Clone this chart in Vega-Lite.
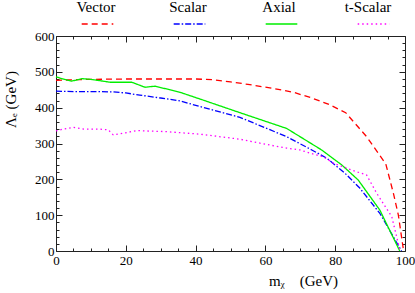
{
  "$schema": "https://vega.github.io/schema/vega-lite/v6.json",
  "autosize": {"type": "none"},
  "padding": {"left": 56, "top": 36, "right": 10, "bottom": 42},
  "width": 349,
  "height": 215,
  "background": "white",
  "config": {
    "view": {"stroke": "#222", "strokeWidth": 1},
    "font": "Liberation Serif",
    "axis": {"grid": false, "domain": false, "labelFont": "Liberation Serif", "labelFontSize": 13, "labelColor": "#000", "titleFont": "Liberation Serif", "titleFontSize": 15, "titleFontWeight": "normal", "titleColor": "#000", "tickColor": "#222", "tickWidth": 1}
  },
  "data": {
    "values": [
      {"series": "Vector", "x": 0, "y": 476}, {"series": "Vector", "x": 5, "y": 478}, {"series": "Vector", "x": 10, "y": 479},
      {"series": "Vector", "x": 20, "y": 480}, {"series": "Vector", "x": 30, "y": 480}, {"series": "Vector", "x": 40, "y": 480},
      {"series": "Vector", "x": 45, "y": 478}, {"series": "Vector", "x": 50, "y": 472}, {"series": "Vector", "x": 55, "y": 465},
      {"series": "Vector", "x": 62, "y": 454}, {"series": "Vector", "x": 68, "y": 443}, {"series": "Vector", "x": 73, "y": 428},
      {"series": "Vector", "x": 78, "y": 410}, {"series": "Vector", "x": 83, "y": 386}, {"series": "Vector", "x": 89, "y": 319},
      {"series": "Vector", "x": 94.5, "y": 243}, {"series": "Vector", "x": 96.7, "y": 160}, {"series": "Vector", "x": 98.1, "y": 100},
      {"series": "Vector", "x": 99.6, "y": 0},
      {"series": "Scalar", "x": 0, "y": 446}, {"series": "Scalar", "x": 5, "y": 445}, {"series": "Scalar", "x": 10, "y": 445},
      {"series": "Scalar", "x": 16.4, "y": 444}, {"series": "Scalar", "x": 20, "y": 441}, {"series": "Scalar", "x": 24, "y": 435},
      {"series": "Scalar", "x": 30, "y": 427}, {"series": "Scalar", "x": 35.5, "y": 419}, {"series": "Scalar", "x": 41.3, "y": 403},
      {"series": "Scalar", "x": 52.7, "y": 373}, {"series": "Scalar", "x": 66.1, "y": 319}, {"series": "Scalar", "x": 73.3, "y": 282},
      {"series": "Scalar", "x": 77.6, "y": 259}, {"series": "Scalar", "x": 82.8, "y": 217}, {"series": "Scalar", "x": 87.1, "y": 175},
      {"series": "Scalar", "x": 92.8, "y": 105}, {"series": "Scalar", "x": 99, "y": 0},
      {"series": "Axial", "x": 0, "y": 486}, {"series": "Axial", "x": 2, "y": 480}, {"series": "Axial", "x": 4.5, "y": 474},
      {"series": "Axial", "x": 7.4, "y": 481}, {"series": "Axial", "x": 10, "y": 479}, {"series": "Axial", "x": 15.5, "y": 471},
      {"series": "Axial", "x": 21.7, "y": 471}, {"series": "Axial", "x": 25.5, "y": 457}, {"series": "Axial", "x": 28.4, "y": 460},
      {"series": "Axial", "x": 35.5, "y": 443}, {"series": "Axial", "x": 41.3, "y": 424}, {"series": "Axial", "x": 52.7, "y": 386},
      {"series": "Axial", "x": 66.1, "y": 342}, {"series": "Axial", "x": 76.1, "y": 282}, {"series": "Axial", "x": 81.9, "y": 240},
      {"series": "Axial", "x": 86.6, "y": 198}, {"series": "Axial", "x": 92.8, "y": 114}, {"series": "Axial", "x": 98.5, "y": 0},
      {"series": "t-Scalar", "x": 0, "y": 335}, {"series": "t-Scalar", "x": 2, "y": 340}, {"series": "t-Scalar", "x": 5, "y": 345},
      {"series": "t-Scalar", "x": 8, "y": 340}, {"series": "t-Scalar", "x": 12.6, "y": 340}, {"series": "t-Scalar", "x": 15, "y": 338},
      {"series": "t-Scalar", "x": 16.4, "y": 324}, {"series": "t-Scalar", "x": 20, "y": 330}, {"series": "t-Scalar", "x": 23.1, "y": 336},
      {"series": "t-Scalar", "x": 31.7, "y": 333}, {"series": "t-Scalar", "x": 41.3, "y": 326}, {"series": "t-Scalar", "x": 52.7, "y": 312},
      {"series": "t-Scalar", "x": 60, "y": 298}, {"series": "t-Scalar", "x": 66.1, "y": 287}, {"series": "t-Scalar", "x": 69.9, "y": 282},
      {"series": "t-Scalar", "x": 72.8, "y": 273}, {"series": "t-Scalar", "x": 76.6, "y": 263}, {"series": "t-Scalar", "x": 79.5, "y": 245},
      {"series": "t-Scalar", "x": 82.3, "y": 235}, {"series": "t-Scalar", "x": 85, "y": 225}, {"series": "t-Scalar", "x": 89, "y": 212},
      {"series": "t-Scalar", "x": 91.9, "y": 161}, {"series": "t-Scalar", "x": 96.2, "y": 96}, {"series": "t-Scalar", "x": 98.6, "y": 0}
    ]
  },
  "resolve": {"axis": {"x": "independent", "y": "independent"}, "legend": {"shape": "independent"}},
  "layer": [
    {
      "mark": {"type": "line", "strokeWidth": 1.3},
      "encoding": {
        "x": {"field": "x", "type": "quantitative", "scale": {"domain": [0, 100], "nice": false},
          "axis": {"orient": "bottom", "values": [0, 20, 40, 60, 80, 100], "ticks": false, "labelPadding": 3, "labelFlush": false, "labelFont": "Liberation Serif",
            "title": "mᵪ\u2002\u2002(GeV)", "titleX": 247, "titleY": 34, "titleAlign": "center", "titleBaseline": "alphabetic", "titleFont": "Liberation Serif"}},
        "y": {"field": "y", "type": "quantitative", "scale": {"domain": [0, 600], "nice": false},
          "axis": {"orient": "left", "values": [0, 100, 200, 300, 400, 500, 600], "ticks": false, "labelPadding": 2, "labelFlush": false, "labelFont": "Liberation Serif",
            "title": "Λₑ (GeV)", "titleX": -41, "titleY": 63, "titleAlign": "center", "titleBaseline": "alphabetic", "titleAngle": -90, "titleFont": "Liberation Serif"}},
        "color": {"field": "series", "type": "nominal",
          "scale": {"domain": ["Vector", "Scalar", "Axial", "t-Scalar"], "range": ["#ff0000", "#0000ff", "#00ee00", "#ff00ff"]},
          "legend": {"orient": "none", "legendX": 25, "legendY": -17, "direction": "horizontal", "title": null, "clipHeight": 10,
            "symbolType": "stroke", "symbolSize": 1000, "symbolStrokeWidth": 1.3, "labelExpr": "''", "labelOffset": 0, "columnPadding": 59, "padding": 0}},
        "strokeDash": {"field": "series", "type": "nominal",
          "scale": {"domain": ["Vector", "Scalar", "Axial", "t-Scalar"], "range": [[6, 4], [6, 2, 1.5, 2], [1, 0], [1.5, 3]]},
          "legend": {"orient": "none", "legendX": 25, "legendY": -17, "direction": "horizontal", "title": null, "clipHeight": 10,
            "symbolType": "stroke", "symbolSize": 1000, "symbolStrokeWidth": 1.3, "labelExpr": "''", "labelOffset": 0, "columnPadding": 59, "padding": 0}}
      }
    },
    {
      "mark": {"type": "point", "opacity": 0},
      "encoding": {
        "x": {"field": "x", "type": "quantitative", "axis": null},
        "y": {"field": "y", "type": "quantitative", "axis": null},
        "shape": {"field": "series", "type": "nominal",
          "scale": {"domain": ["Vector", "Scalar", "Axial", "t-Scalar"], "range": ["stroke", "stroke", "stroke", "stroke"]},
          "legend": {"orient": "none", "legendX": 10, "legendY": -29, "direction": "horizontal", "title": null, "clipHeight": 10,
            "symbolSize": 3600, "symbolOpacity": 0, "symbolStrokeWidth": 0.5, "labelFont": "Liberation Serif", "labelFontSize": 15, "labelColor": "#000",
            "labelAlign": "center", "labelOffset": -31, "labelBaseline": "alphabetic", "columnPadding": 42, "padding": 0}}
      }
    },
    {
      "mark": {"type": "line", "opacity": 0},
      "encoding": {
        "x": {"field": "x", "type": "quantitative", "axis": {"orient": "bottom", "values": [0, 20, 40, 60, 80, 100], "labels": false, "tickSize": -6, "title": null}},
        "y": {"field": "y", "type": "quantitative", "axis": {"orient": "left", "values": [0, 100, 200, 300, 400, 500, 600], "labels": false, "tickSize": -6, "title": null}},
        "detail": {"field": "series"}
      }
    },
    {
      "mark": {"type": "line", "opacity": 0},
      "encoding": {
        "x": {"field": "x", "type": "quantitative", "axis": {"orient": "bottom", "values": [5, 10, 15, 25, 30, 35, 45, 50, 55, 65, 70, 75, 85, 90, 95], "labels": false, "tickSize": -3, "title": null}},
        "y": {"field": "y", "type": "quantitative", "axis": {"orient": "left", "values": [20, 40, 60, 80, 120, 140, 160, 180, 220, 240, 260, 280, 320, 340, 360, 380, 420, 440, 460, 480, 520, 540, 560, 580], "labels": false, "tickSize": -3, "title": null}},
        "detail": {"field": "series"}
      }
    },
    {
      "mark": {"type": "line", "opacity": 0},
      "encoding": {
        "x": {"field": "x", "type": "quantitative", "axis": {"orient": "top", "values": [0, 20, 40, 60, 80, 100], "labels": false, "tickSize": -6, "title": null}},
        "y": {"field": "y", "type": "quantitative", "axis": {"orient": "right", "values": [0, 100, 200, 300, 400, 500, 600], "labels": false, "tickSize": -6, "title": null}},
        "detail": {"field": "series"}
      }
    },
    {
      "mark": {"type": "line", "opacity": 0},
      "encoding": {
        "x": {"field": "x", "type": "quantitative", "axis": {"orient": "top", "values": [5, 10, 15, 25, 30, 35, 45, 50, 55, 65, 70, 75, 85, 90, 95], "labels": false, "tickSize": -3, "title": null}},
        "y": {"field": "y", "type": "quantitative", "axis": {"orient": "right", "values": [20, 40, 60, 80, 120, 140, 160, 180, 220, 240, 260, 280, 320, 340, 360, 380, 420, 440, 460, 480, 520, 540, 560, 580], "labels": false, "tickSize": -3, "title": null}},
        "detail": {"field": "series"}
      }
    }
  ]
}
